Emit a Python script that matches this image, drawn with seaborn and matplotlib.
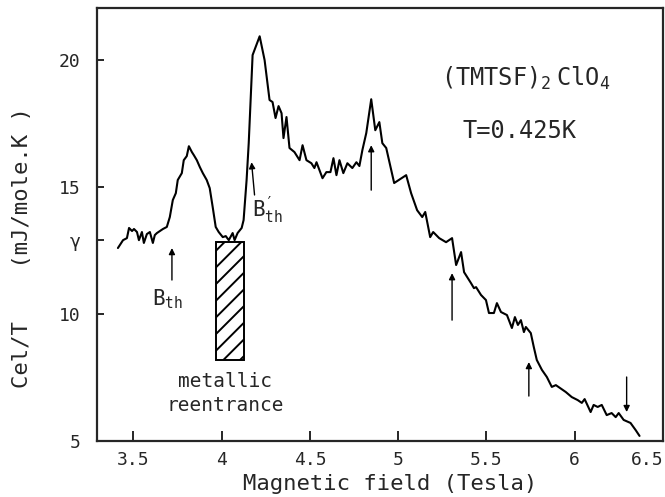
import matplotlib
matplotlib.use("Agg")
import matplotlib.pyplot as plt
import seaborn as sns
import pandas as pd
from matplotlib.patches import Rectangle

# ==== DATA ====
field = [3.412, 3.441, 3.463, 3.475, 3.492, 3.503, 3.520, 3.531, 3.548, 3.559,
         3.576, 3.593, 3.610, 3.621, 3.633, 3.650, 3.667, 3.689, 3.706, 3.723,
         3.740, 3.751, 3.774, 3.785, 3.802, 3.814, 3.831, 3.842, 3.859, 3.876,
         3.893, 3.915, 3.932, 3.949, 3.966, 3.983, 4.006, 4.023, 4.040, 4.062,
         4.073, 4.090, 4.113, 4.124, 4.141, 4.153, 4.175, 4.215, 4.243, 4.271,
         4.288, 4.305, 4.322, 4.339, 4.350, 4.367, 4.384, 4.412, 4.441, 4.458,
         4.480, 4.508, 4.525, 4.537, 4.571, 4.593, 4.616, 4.633, 4.650, 4.667,
         4.689, 4.712, 4.740, 4.763, 4.780, 4.797, 4.819, 4.847, 4.870, 4.893,
         4.910, 4.932, 4.977, 5.045, 5.073, 5.107, 5.136, 5.153, 5.181, 5.198,
         5.232, 5.271, 5.305, 5.328, 5.356, 5.373, 5.412, 5.429, 5.441, 5.469,
         5.497, 5.514, 5.542, 5.559, 5.582, 5.616, 5.644, 5.661, 5.678, 5.695,
         5.712, 5.723, 5.751, 5.768, 5.785, 5.814, 5.842, 5.870, 5.893, 5.949,
         5.983, 6.017, 6.040, 6.056, 6.090, 6.107, 6.130, 6.153, 6.181, 6.209,
         6.232, 6.249, 6.277, 6.316, 6.345, 6.367]
cel_t = [12.60, 12.91, 12.99, 13.39, 13.27, 13.35, 13.23, 12.91, 13.23, 12.80,
         13.15, 13.23, 12.80, 13.11, 13.19, 13.27, 13.35, 13.43, 13.82, 14.49,
         14.76, 15.28, 15.55, 16.06, 16.22, 16.61, 16.38, 16.26, 16.06, 15.79,
         15.55, 15.28, 14.96, 14.21, 13.43, 13.23, 13.03, 13.07, 12.91, 13.19,
         12.91, 13.19, 13.39, 13.70, 15.28, 16.73, 20.20, 20.94, 20.00, 18.43,
         18.35, 17.72, 18.19, 17.91, 16.93, 17.76, 16.54, 16.38, 16.06, 16.65,
         16.06, 15.94, 15.75, 15.98, 15.35, 15.59, 15.59, 16.14, 15.47, 16.06,
         15.55, 15.94, 15.75, 15.98, 15.83, 16.46, 17.13, 18.46, 17.24, 17.56,
         16.73, 16.54, 15.16, 15.47, 14.76, 14.09, 13.82, 14.02, 13.03, 13.23,
         12.99, 12.83, 12.99, 11.93, 12.44, 11.65, 11.22, 11.02, 11.06, 10.75,
         10.55, 10.04, 10.04, 10.43, 10.08, 9.96, 9.45, 9.88, 9.57, 9.76,
         9.29, 9.49, 9.25, 8.70, 8.19, 7.80, 7.52, 7.13, 7.20, 6.93,
         6.73, 6.61, 6.50, 6.65, 6.14, 6.42, 6.34, 6.42, 6.02, 6.10,
         5.94, 6.10, 5.83, 5.71, 5.43, 5.20]

x_ticks = [3.5, 4, 4.5, 5, 5.5, 6, 6.5]
x_labels = ["3.5", "4", "4.5", "5", "5.5", "6", "6.5"]
y_ticks = [5, 10, 12.9, 15, 20]
y_labels = ["5", "10", "γ", "15", "20"]

# arrows: tail (x, y) -> tip (x, y)
arrow_x = [3.718, 4.186, 4.847, 5.305, 5.740, 6.294]
arrow_tail = [11.34, 14.69, 14.88, 9.76, 6.77, 7.52]
arrow_tip_x = [3.718, 4.169, 4.847, 5.305, 5.740, 6.294]
arrow_tip = [12.60, 15.98, 16.65, 11.61, 8.11, 6.14]

# metallic reentrance band
band_x = [3.966, 4.124]
band_y = [8.19, 12.83]

df = pd.DataFrame({"field": field, "cel_t": cel_t})

# ==== STYLE ====
sns.set_style("ticks")
plt.rcParams["font.family"] = ["DejaVu Sans Mono", "DejaVu Sans"]
plt.rcParams["mathtext.fontset"] = "custom"
plt.rcParams["mathtext.rm"] = "DejaVu Sans Mono"
plt.rcParams["mathtext.it"] = "DejaVu Sans Mono"
plt.rcParams["mathtext.tt"] = "DejaVu Sans Mono"
plt.rcParams["hatch.linewidth"] = 1.4

fig = plt.figure(figsize=(6.65, 4.97), dpi=100)
ax = fig.add_axes([0.146, 0.1127, 0.851, 0.871])

sns.lineplot(data=df, x="field", y="cel_t", ax=ax, color="black", lw=1.5,
             sort=False, estimator=None)

ax.set_xlim(3.294, 6.5)
ax.set_ylim(5, 22.05)
ax.set_xticks(x_ticks)
ax.set_xticklabels(x_labels)
ax.set_yticks(y_ticks)
ax.set_yticklabels(y_labels)
ax.get_xticklabels()[-1].set_horizontalalignment("right")
ax.tick_params(axis="x", direction="in", length=7, width=1.4, labelsize=13, pad=7)
ax.tick_params(axis="y", direction="in", length=5, width=1.4, labelsize=13, pad=12)
for s in ax.spines.values():
    s.set_linewidth(1.6)
    s.set_visible(True)
ax.set_xlabel("")
ax.set_ylabel("")

# hatched band
ax.add_patch(Rectangle((band_x[0], band_y[0]), band_x[1] - band_x[0],
                       band_y[1] - band_y[0], fill=False, hatch="//",
                       lw=1.4, edgecolor="black"))

# arrows
for xt, yt, xh, yh in zip(arrow_x, arrow_tail, arrow_tip_x, arrow_tip):
    ax.annotate("", xy=(xh, yh), xytext=(xt, yt),
                arrowprops=dict(arrowstyle="-|>", lw=1.0, color="black",
                                mutation_scale=9, shrinkA=0, shrinkB=0))

# annotations
ax.text(5.724, 19.3, r"$\mathtt{(TMTSF)_2\ ClO_4}$", fontsize=17,
        ha="center", va="center")
ax.text(5.689, 17.2, "T=0.425K", fontsize=17, ha="center", va="center")
ax.text(4.02, 6.87, "metallic\nreentrance", fontsize=14, ha="center",
        va="center", linespacing=1.3)
ax.text(3.695, 10.6, r"$\mathtt{B_{th}}$", fontsize=15, ha="center", va="center")
ax.text(4.26, 14.1, r"$\mathtt{B_{th}^{\prime}}$", fontsize=15, ha="center",
        va="center")

fig.text(0.586, 0.026, "Magnetic field (Tesla)", fontsize=16, ha="center",
         va="center")
fig.text(0.033, 0.501, "Cel/T    (mJ/mole.K )", fontsize=16, ha="center",
         va="center", rotation=90)

fig.savefig("out.png", dpi=100)
